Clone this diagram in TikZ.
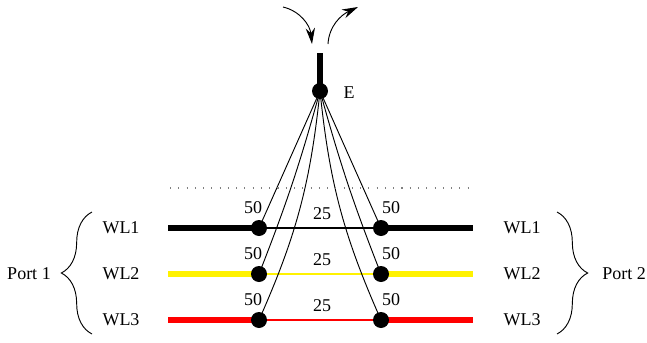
\documentclass[tikz,border=0pt]{standalone}
\usepackage{fontspec}
\setmainfont{Liberation Serif}
\usetikzlibrary{arrows.meta, positioning, backgrounds, decorations.pathreplacing}

\begin{document}
\begin{tikzpicture}[
    x=0.75pt, y=-0.75pt,
    every node/.style={font=\fontsize{13.5}{16}\selectfont},
    dot/.style={circle, fill=black, minimum size=12pt, inner sep=0pt},
    wlline/.style={line width=4.4pt},
    wlspan/.style={line width=1.6pt},
    fibre/.style={line width=0.7pt},
    flow/.style={-{Stealth[length=12pt, width=7pt]}, line width=0.7pt},
    portbrace/.style={decorate, decoration={brace, amplitude=23pt}, line width=0.7pt}
]
\useasboundingbox (0,0) rectangle (647,343);

% coupler E with its stem and the light in and out
\node[dot] (E) at (320,91) {};
\node (Elab) at (349,93) {E};
\coordinate (stemtop) at (320,53);
\draw[line width=4.5pt] (stemtop) -- (E.center);

\coordinate (inA) at (283,7);
\coordinate (inB) at (312,44);
\draw[flow] (inA) .. controls (300,11) and (310,25) .. (inB);
\coordinate (outA) at (328,44);
\coordinate (outB) at (358,7);
\draw[flow] (outA) .. controls (329,26) and (341,15) .. (outB);

\coordinate (dotL) at (170,188);
\coordinate (dotR) at (472,188);
\draw[gray, line width=0.8pt, dash pattern=on 0.8pt off 5.4pt] (dotL) -- (dotR);

% wavelength lines
\foreach \n/\y/\col in {1/228/black, 2/274/yellow, 3/320/red} {
    \node[dot] (L\n) at (259,\y) {};
    \node[dot] (R\n) at (381,\y) {};
    \coordinate (A\n) at (168,\y);
    \coordinate (B\n) at (473,\y);
    \node (WLa\n) at (121,\y) {WL\n};
    \node (WLb\n) at (522,\y) {WL\n};
    \node (cl\n) at (253,\y-20.5) {50};
    \node (cr\n) at (391,\y-20.5) {50};
    \node (cm\n) at (322,\y-14) {25};
    \begin{scope}[on background layer]
        \draw[wlline, \col] (A\n) -- (L\n.center);
        \draw[wlline, \col] (R\n.center) -- (B\n);
        \draw[wlspan, \col] (L\n.center) -- (R\n.center);
    \end{scope}
}

\begin{scope}[on background layer]
    \draw[fibre] (E.center) -- (L1.center);
    \draw[fibre] (E.center) -- (R1.center);
    \draw[fibre] (E.center) to[bend left=3] (L2.center);
    \draw[fibre] (E.center) to[bend right=3] (R2.center);
    \draw[fibre] (E.center) to[bend left=9] (L3.center);
    \draw[fibre] (E.center) to[bend right=9] (R3.center);
\end{scope}

% ports
\coordinate (p1top) at (92,212);
\coordinate (p1bot) at (92,334);
\draw[portbrace] (p1bot) -- (p1top);
\coordinate (p2top) at (557,212);
\coordinate (p2bot) at (557,334);
\draw[portbrace] (p2top) -- (p2bot);
\node (port1) at (29,274) {Port 1};
\node (port2) at (624,274) {Port 2};

\end{tikzpicture}
\end{document}
